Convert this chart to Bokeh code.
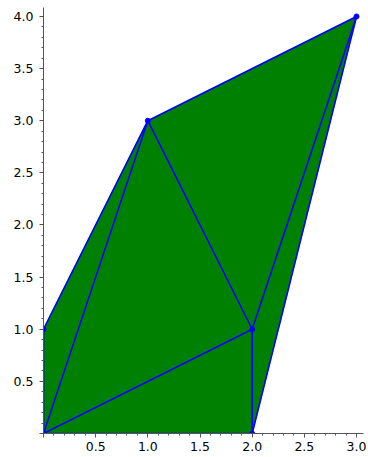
from bokeh.plotting import figure
from bokeh.models import Range1d, SingleIntervalTicker, PrintfTickFormatter
from bokeh.embed import file_html
from bokeh.resources import INLINE

# vertices of the triangulation
vx = [0, 0, 1, 3, 2, 2]
vy = [0, 1, 3, 4, 0, 1]
# triangles (vertex indices)
triangles = [(0, 1, 2), (0, 2, 5), (0, 5, 4), (2, 3, 5), (5, 3, 4)]
# edges (vertex indices)
edges = [(0, 1), (1, 2), (2, 3), (3, 4), (4, 0), (0, 2), (2, 5), (5, 0), (5, 4), (5, 3)]
tick_interval = 0.5

p = figure(width=368, height=457, output_backend="svg", toolbar_location=None,
           x_range=Range1d(0, 3.067), y_range=Range1d(0, 4.086),
           min_border_left=43, min_border_right=5, min_border_top=7, min_border_bottom=24)
p.outline_line_color = None
p.xgrid.visible = False
p.ygrid.visible = False
p.background_fill_color = "white"

tx = [[vx[i] for i in t] for t in triangles]
ty = [[vy[i] for i in t] for t in triangles]
p.patches(tx, ty, fill_color="#008000", line_color="#008000", line_width=0.5)

ex = [[vx[a], vx[b]] for a, b in edges]
ey = [[vy[a], vy[b]] for a, b in edges]
p.multi_line(ex, ey, line_color="#0000ff", line_width=1.6)
p.scatter(vx, vy, size=5, color="#0000ff")

for ax in (p.xaxis[0], p.yaxis[0]):
    ax.ticker = SingleIntervalTicker(interval=tick_interval, num_minor_ticks=5)
    ax.formatter = PrintfTickFormatter(format="%.1f")
    ax.axis_line_color = "#555555"
    ax.axis_line_width = 1
    ax.major_tick_line_color = "#555555"
    ax.minor_tick_line_color = "#555555"
    ax.major_tick_in = 0
    ax.major_tick_out = 4
    ax.minor_tick_in = 0
    ax.minor_tick_out = 2
    ax.major_label_text_font = "DejaVu Sans"
    ax.major_label_text_font_size = "12.5px"
    ax.major_label_text_color = "black"
    ax.major_label_overrides = {0: ""}

p.xaxis[0].major_label_standoff = 4
p.yaxis[0].major_label_standoff = 6

open("out.html", "w").write(file_html(p, INLINE))
